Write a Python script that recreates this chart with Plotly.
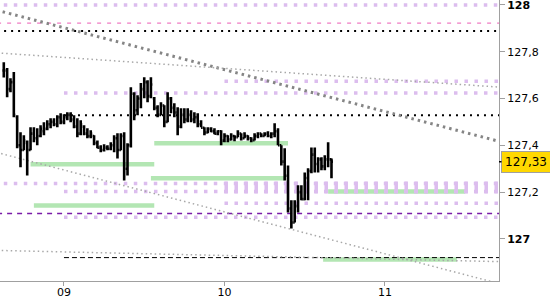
import pandas as pd
import plotly.graph_objects as go

# ---- price bars (30-minute OHLC) ----
bar_start = "2023-03-08 15:00"
bar_count = 99
opens = [127.72, 127.72, 127.64, 127.67, 127.52, 127.40, 127.38, 127.41, 127.38, 127.45,
         127.43, 127.44, 127.46, 127.47, 127.49, 127.50, 127.49, 127.52, 127.50, 127.52,
         127.53, 127.51, 127.48, 127.45, 127.48, 127.45, 127.44, 127.44, 127.41, 127.39,
         127.38, 127.39, 127.385, 127.40, 127.43, 127.38, 127.44, 127.30, 127.40, 127.62,
         127.55, 127.60, 127.64, 127.67, 127.61, 127.60, 127.56, 127.53, 127.57, 127.50,
         127.60, 127.56, 127.54, 127.48, 127.53, 127.51, 127.53, 127.51, 127.52, 127.49,
         127.475, 127.455, 127.47, 127.46, 127.45, 127.46, 127.42, 127.44, 127.425, 127.44,
         127.435, 127.45, 127.43, 127.44, 127.43, 127.422, 127.44, 127.45, 127.44, 127.45,
         127.44, 127.45, 127.46, 127.40, 127.33, 127.27, 127.13, 127.07, 127.14, 127.20,
         127.17, 127.26, 127.29, 127.36, 127.32, 127.34, 127.31, 127.34, 127.34]
highs = [127.755, 127.73, 127.687, 127.713, 127.528, 127.456, 127.443, 127.421, 127.477, 127.477,
         127.473, 127.486, 127.498, 127.507, 127.516, 127.516, 127.528, 127.537, 127.533, 127.541,
         127.541, 127.528, 127.516, 127.507, 127.486, 127.473, 127.464, 127.443, 127.421, 127.40,
         127.404, 127.40, 127.413, 127.443, 127.451, 127.451, 127.456, 127.409, 127.648, 127.627,
         127.614, 127.666, 127.691, 127.678, 127.691, 127.606, 127.571, 127.584, 127.571, 127.627,
         127.606, 127.58, 127.563, 127.558, 127.558, 127.558, 127.55, 127.541, 127.537, 127.507,
         127.477, 127.477, 127.477, 127.473, 127.464, 127.464, 127.451, 127.443, 127.451, 127.443,
         127.464, 127.451, 127.456, 127.443, 127.434, 127.451, 127.456, 127.451, 127.456, 127.46,
         127.456, 127.494, 127.473, 127.40, 127.387, 127.314, 127.165, 127.165, 127.229, 127.229,
         127.284, 127.302, 127.391, 127.391, 127.349, 127.349, 127.357, 127.413, 127.344]
lows = [127.69, 127.605, 127.627, 127.52, 127.387, 127.306, 127.379, 127.271, 127.379, 127.413,
        127.40, 127.434, 127.443, 127.464, 127.473, 127.481, 127.477, 127.49, 127.49, 127.507,
        127.498, 127.473, 127.434, 127.443, 127.443, 127.43, 127.43, 127.40, 127.387, 127.37,
        127.374, 127.379, 127.379, 127.37, 127.344, 127.379, 127.25, 127.271, 127.391, 127.507,
        127.528, 127.558, 127.601, 127.584, 127.601, 127.55, 127.52, 127.528, 127.477, 127.498,
        127.537, 127.52, 127.443, 127.473, 127.494, 127.498, 127.498, 127.494, 127.477, 127.477,
        127.443, 127.451, 127.456, 127.447, 127.443, 127.40, 127.413, 127.413, 127.421, 127.417,
        127.434, 127.421, 127.43, 127.421, 127.413, 127.421, 127.43, 127.434, 127.439, 127.434,
        127.43, 127.434, 127.40, 127.314, 127.25, 127.113, 127.044, 127.07, 127.113, 127.165,
        127.165, 127.165, 127.28, 127.284, 127.284, 127.293, 127.293, 127.306, 127.259]
closes = [127.72, 127.64, 127.67, 127.53, 127.40, 127.38, 127.42, 127.38, 127.45, 127.43,
          127.44, 127.47, 127.47, 127.49, 127.50, 127.49, 127.52, 127.50, 127.52, 127.53,
          127.51, 127.48, 127.45, 127.49, 127.45, 127.44, 127.45, 127.41, 127.39, 127.38,
          127.39, 127.385, 127.40, 127.43, 127.38, 127.44, 127.30, 127.40, 127.62, 127.55,
          127.60, 127.64, 127.67, 127.61, 127.66, 127.56, 127.53, 127.57, 127.50, 127.60,
          127.56, 127.54, 127.48, 127.53, 127.51, 127.53, 127.51, 127.52, 127.49, 127.475,
          127.455, 127.47, 127.46, 127.45, 127.46, 127.42, 127.44, 127.425, 127.44, 127.435,
          127.45, 127.43, 127.44, 127.43, 127.422, 127.44, 127.45, 127.44, 127.45, 127.44,
          127.45, 127.46, 127.40, 127.33, 127.27, 127.13, 127.07, 127.14, 127.20, 127.17,
          127.26, 127.29, 127.36, 127.32, 127.34, 127.31, 127.34, 127.34, 127.33]

last_price = 127.33
last_label = "127,33"

# ---- horizontal levels ----
line_end = "2023-03-11 20:00"
lav_levels = [128.00, 127.674, 127.623, 127.237, 127.203, 127.152, 127.092]
lav_starts = ["2023-03-08 15:00", "2023-03-10 00:00", "2023-03-09 00:00", "2023-03-08 15:00",
              "2023-03-09 00:00", "2023-03-10 00:00", "2023-03-09 00:00"]
lav_band_level = 127.220
lav_band_start = "2023-03-10 00:00"

pink_level = 127.922
pink_start = "2023-03-08 14:00"
black_dot_levels = [127.888, 127.528]
black_dot_starts = ["2023-03-08 14:00", "2023-03-09 00:00"]
purple_level = 127.109
purple_start = "2023-03-08 14:00"
black_dash_level = 126.920
black_dash_start = "2023-03-09 00:00"

green_levels = [127.409, 127.319, 127.259, 127.143, 127.203, 126.912]
green_starts = ["2023-03-09 13:30", "2023-03-08 19:00", "2023-03-09 13:00", "2023-03-08 19:30",
                "2023-03-10 15:30", "2023-03-10 14:45"]
green_ends = ["2023-03-10 09:30", "2023-03-09 13:30", "2023-03-10 09:00", "2023-03-09 13:30",
              "2023-03-11 12:00", "2023-03-11 10:45"]

# ---- trend lines (two points each) ----
trend_t = ["2023-03-08 12:00", "2023-03-11 20:00"]
trend_thick = [127.992, 127.395]
trend_upper_thin = [127.799, 127.643]
trend_lower_thin = [127.384, 126.787]
trend_bottom_thin = [126.952, 126.901]

# ---- axes ----
x_range = ["2023-03-08 14:26", "2023-03-11 17:03"]
x_ticks = ["2023-03-09", "2023-03-10", "2023-03-11"]
x_labels = ["09", "10", "11"]
y_range = [126.82, 128.021]
y_ticks = [127.0, 127.2, 127.4, 127.6, 127.8, 128.0]
y_labels = ["<b>127</b>", "127,2", "127,4", "127,6", "127,8", "<b>128</b>"]

times = pd.date_range(bar_start, periods=bar_count, freq="30min")

fig = go.Figure()
fig.add_trace(go.Ohlc(
    x=times, open=opens, high=highs, low=lows, close=closes,
    increasing=dict(line=dict(color="black", width=2.6)),
    decreasing=dict(line=dict(color="black", width=2.6)),
    tickwidth=0.45, hoverinfo="skip", showlegend=False,
))

shapes = []

def hline(t0, t1, level, color, width, dash):
    shapes.append(dict(type="line", xref="x", yref="y", x0=t0, x1=t1, y0=level, y1=level,
                       line=dict(color=color, width=width, dash=dash), layer="below"))

def tline(vals, color, width, dash):
    shapes.append(dict(type="line", xref="x", yref="y", x0=trend_t[0], x1=trend_t[1],
                       y0=vals[0], y1=vals[1],
                       line=dict(color=color, width=width, dash=dash), layer="below"))

LAV = "#dcbdee"
GREEN = "#b3e6b3"
for lv, st, en in zip(green_levels, green_starts, green_ends):
    hline(st, en, lv, GREEN, 4.5, "solid")
for lv, st in zip(lav_levels, lav_starts):
    hline(st, line_end, lv, LAV, 3.5, "3.5px,6.5px")
hline(lav_band_start, line_end, lav_band_level, LAV, 12, "3.5px,6.5px")
hline(pink_start, line_end, pink_level, "#f07cc4", 1.2, "4px,6px")
for lv, st in zip(black_dot_levels, black_dot_starts):
    hline(st, line_end, lv, "black", 2, "2px,5px")
hline(purple_start, line_end, purple_level, "#7a1ca8", 1.5, "5px,5px")
hline(black_dash_start, line_end, black_dash_level, "black", 1, "5px,3px")
tline(trend_thick, "#858585", 3, "2.5px,4px")
tline(trend_upper_thin, "#a8a8a8", 1.5, "1.5px,3px")
tline(trend_lower_thin, "#a8a8a8", 1.5, "1.5px,3px")
tline(trend_bottom_thin, "#a8a8a8", 1.5, "1.5px,3px")

fig.update_layout(
    width=550, height=300,
    margin=dict(l=0, r=51, t=0, b=19),
    paper_bgcolor="white", plot_bgcolor="white",
    showlegend=False,
    font=dict(family="DejaVu Sans", size=11, color="black"),
    shapes=shapes,
    xaxis=dict(type="date", range=x_range, tickvals=x_ticks, ticktext=x_labels,
               ticks="outside", ticklen=4, tickcolor="#a0a0a0", automargin=False,
               ticklabelstandoff=-3,
               showline=True, linecolor="#a0a0a0", linewidth=1,
               showgrid=False, zeroline=False, rangeslider=dict(visible=False),
               tickfont=dict(size=11, color="black")),
    yaxis=dict(side="right", range=y_range, tickvals=y_ticks, ticktext=y_labels,
               ticks="outside", ticklen=5, tickcolor="#a0a0a0", automargin=False,
               showline=True, linecolor="#a0a0a0", linewidth=1,
               showgrid=False, zeroline=False, ticklabeloverflow="allow",
               tickfont=dict(size=11, color="black")),
    annotations=[dict(
        xref="paper", yref="y", x=1, y=last_price, text=last_label,
        showarrow=True, arrowhead=0, arrowwidth=1.5, arrowcolor="black",
        ax=27, ay=0, bgcolor="#ffd800", bordercolor="#a0a0a0", borderwidth=1,
        borderpad=3, font=dict(size=12, color="black"),
    )],
)

fig.write_html("out.html")
